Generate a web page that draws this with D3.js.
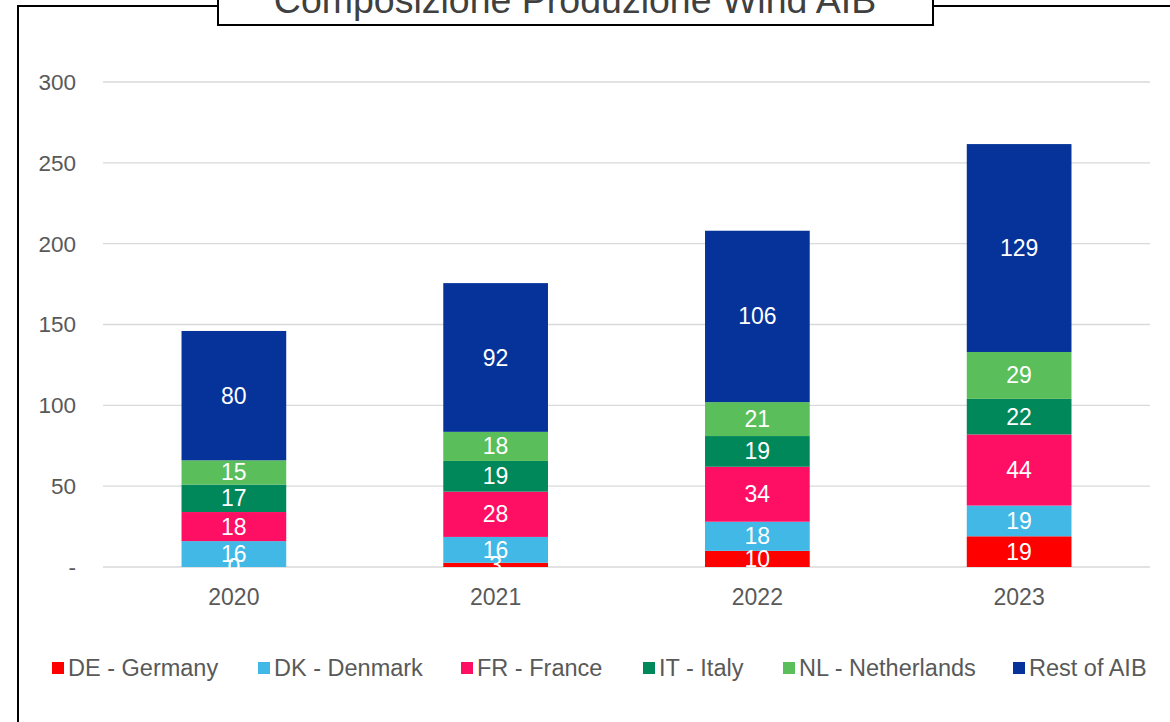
<!DOCTYPE html>
<meta charset="utf-8">
<style>
  body { margin: 0; background: #fff; }
  text { font-family: "Liberation Sans", Arial, sans-serif; }
</style>
<body>
<script src="https://cdn.jsdelivr.net/npm/d3@7"></script>
<script>
    var years = ["2020", "2021", "2022", "2023"];
    var series = ["DE - Germany", "DK - Denmark", "FR - France", "IT - Italy", "NL - Netherlands", "Rest of AIB"];
    var colors = ["#ff0000", "#41b8e6", "#ff0f64", "#00875a", "#5abe5a", "#053399"];

    var deValues   = [0, 2.6, 10, 19];
    var dkValues   = [16, 16, 18, 19];
    var frValues   = [18, 28, 34, 44];
    var itValues   = [17, 19, 19, 22];
    var nlValues   = [15, 18, 21, 29];
    var restValues = [80, 92, 106, 128.6];
    var yTicks = [0, 50, 100, 150, 200, 250, 300];

    var width = 1170, height = 722;

    var rows = years.map(function (y, i) {
        return {
            year: y,
            "DE - Germany": deValues[i],
            "DK - Denmark": dkValues[i],
            "FR - France": frValues[i],
            "IT - Italy": itValues[i],
            "NL - Netherlands": nlValues[i],
            "Rest of AIB": restValues[i]
        };
    });

    var stacked = d3.stack().keys(series)(rows);

    var svg = d3.select('body').append('svg')
        .attr('width', width)
        .attr('height', height);

    // frame around the chart
    svg.append('path')
        .attr('d', 'M18,' + height + ' V6 H218 M933,6 H' + width)
        .attr('fill', 'none')
        .attr('stroke', '#000')
        .attr('stroke-width', 2);

    var x = d3.scaleBand().domain(years).range([103, 1150]).paddingInner(0.6).paddingOuter(0.3);
    var y = d3.scaleLinear().domain([0, 300]).range([567, 82]);

    // gridlines
    svg.append('g')
        .selectAll('line')
        .data(yTicks)
        .enter().append('line')
        .attr('x1', 103).attr('x2', 1150)
        .attr('y1', d => y(d)).attr('y2', d => y(d))
        .attr('stroke', '#d9d9d9')
        .attr('stroke-width', 1.3);

    // y axis labels
    svg.append('g')
        .selectAll('text')
        .data(yTicks)
        .enter().append('text')
        .attr('x', 76)
        .attr('y', d => y(d))
        .attr('dy', '0.35em')
        .attr('text-anchor', 'end')
        .attr('font-size', 22.5)
        .attr('fill', '#595959')
        .text(d => d === 0 ? '-' : d);

    // x axis labels
    svg.append('g')
        .selectAll('text')
        .data(years)
        .enter().append('text')
        .attr('x', d => x(d) + x.bandwidth() / 2)
        .attr('y', 605)
        .attr('text-anchor', 'middle')
        .attr('font-size', 23)
        .attr('fill', '#595959')
        .text(d => d);

    var layers = svg.append('g')
        .selectAll('g')
        .data(stacked)
        .enter().append('g')
        .attr('fill', (d, i) => colors[i]);

    layers.selectAll('rect')
        .data(d => d)
        .enter().append('rect')
        .attr('x', d => x(d.data.year))
        .attr('width', x.bandwidth())
        .attr('y', d => y(d[1]))
        .attr('height', d => y(d[0]) - y(d[1]));

    var fmt = d3.format('.0f');
    var labels = svg.append('g');
    stacked.forEach(function (layer) {
        labels.selectAll(null)
            .data(layer)
            .enter().append('text')
            .attr('x', d => x(d.data.year) + x.bandwidth() / 2)
            .attr('y', d => (y(d[0]) + y(d[1])) / 2)
            .attr('dy', '0.35em')
            .attr('text-anchor', 'middle')
            .attr('font-size', 23)
            .attr('fill', '#fff')
            .text(d => fmt(d[1] - d[0]));
    });

    // title box
    svg.append('rect')
        .attr('x', 218).attr('y', -10)
        .attr('width', 715).attr('height', 35)
        .attr('fill', '#fff')
        .attr('stroke', '#000')
        .attr('stroke-width', 2);
    svg.append('text')
        .attr('x', 575)
        .attr('y', 13)
        .attr('text-anchor', 'middle')
        .attr('font-size', 37.5)
        .attr('fill', '#404040')
        .text('Composizione Produzione Wind AIB');

    // legend
    var legendX = [52, 258, 461, 643, 783, 1013];
    var legend = svg.append('g')
        .selectAll('g')
        .data(series)
        .enter().append('g')
        .attr('transform', (d, i) => 'translate(' + legendX[i] + ',668)');
    legend.append('rect')
        .attr('x', 0).attr('y', -6)
        .attr('width', 12).attr('height', 12)
        .attr('fill', (d, i) => colors[i]);
    legend.append('text')
        .attr('x', 16)
        .attr('dy', '0.35em')
        .attr('font-size', 23.5)
        .attr('fill', '#595959')
        .text(d => d);
</script>
</body>
